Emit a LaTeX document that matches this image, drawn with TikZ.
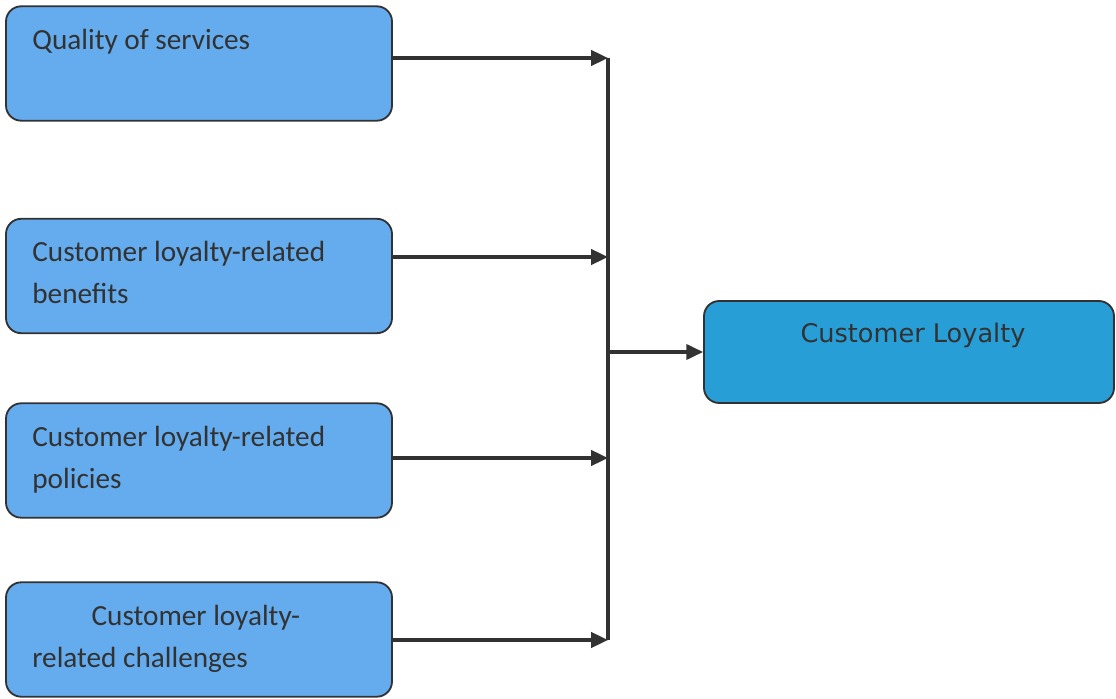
\documentclass[tikz,border=0pt]{standalone}
\usepackage{fontspec}
\setmainfont{Carlito}
\newfontfamily\loyaltyfont{DejaVu Sans}
\usetikzlibrary{arrows.meta,positioning}
\definecolor{factorblue}{RGB}{100,172,238}
\definecolor{loyaltyblue}{RGB}{40,158,214}
\definecolor{inkgray}{RGB}{50,50,50}
\tikzset{
    factor/.style={rectangle, rounded corners=0.38cm, draw=inkgray, line width=1.3pt, fill=factorblue, minimum width=9.65cm, minimum height=2.86cm},
    factortext/.style={align=left, text=inkgray, inner sep=0pt, font=\fontsize{20.8}{29.9}\selectfont},
    loyaltybox/.style={rectangle, rounded corners=0.38cm, draw=inkgray, line width=1.3pt, fill=loyaltyblue, minimum width=10.25cm, minimum height=2.55cm},
    loyaltytext/.style={text=inkgray, inner sep=0pt, font=\loyaltyfont\fontsize{18.2}{22}\selectfont},
    link/.style={draw=inkgray, line width=2.3pt, -{Triangle[length=4.2mm, width=3.8mm]}},
    bus/.style={draw=inkgray, line width=3.4pt},
}
\begin{document}
\begin{tikzpicture}
    \useasboundingbox (0,0) rectangle (27.9,-17.475);
    \node[factor] (quality) at (4.975,-1.5875) {};
    \node[factor] (benefits) at (4.975,-6.9) {};
    \node[factor] (policies) at (4.975,-11.5125) {};
    \node[factor] (challenges) at (4.975,-15.9875) {};
    \node[loyaltybox] (loyalty) at (22.725,-8.8) {};

    \node[factortext, below right=1.1cm and 0.675cm of quality.north west, anchor=base west] (qualitylabel) {Quality of services};
    \node[factortext, below right=2.15cm and 0.675cm of benefits.north west, anchor=base west] (benefitslabel) {Customer loyalty-related\\benefits};
    \node[factortext, below right=2.15cm and 0.675cm of policies.north west, anchor=base west] (policieslabel) {Customer loyalty-related\\policies};
    \node[factortext, below right=2.15cm and 0.675cm of challenges.north west, anchor=base west] (challengeslabel) {\hspace*{1.48cm}Customer loyalty-\\related challenges};
    \node[loyaltytext, below right=1.05cm and 0.1cm of loyalty.north, anchor=base] (loyaltylabel) {Customer Loyalty};

    \coordinate (busq) at (15.2,-1.45);
    \coordinate (busb) at (15.2,-6.425);
    \coordinate (busout) at (15.2,-8.8);
    \coordinate (busp) at (15.2,-11.45);
    \coordinate (busc) at (15.2,-16.0);

    \draw[bus] (busq) -- (busc);
    \draw[link] (quality.east |- busq) -- (busq);
    \draw[link] (benefits.east |- busb) -- (busb);
    \draw[link] (policies.east |- busp) -- (busp);
    \draw[link] (challenges.east |- busc) -- (busc);
    \draw[link] (busout) -- (loyalty.west);
\end{tikzpicture}
\end{document}
